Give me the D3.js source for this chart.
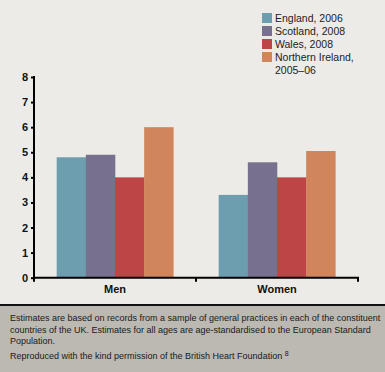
<!DOCTYPE html>
<html>
<head>
<meta charset="utf-8">
<script src="https://cdn.jsdelivr.net/npm/d3@7"></script>
<style>
  body { margin: 0; background: #edebe7; }
  svg { display: block; }
</style>
</head>
<body>
<div id="chart"></div>
<script>
// chart data
const categories = ['Men', 'Women']
const seriesNames = ['England, 2006', 'Scotland, 2008', 'Wales, 2008', 'Northern Ireland, 2005–06']
const england = [4.8, 3.3]
const scotland = [4.9, 4.6]
const wales = [4.0, 4.0]
const nireland = [6.0, 5.05]
const yTicks = [0, 1, 2, 3, 4, 5, 6, 7, 8]
const footnote = [
    'Estimates are based on records from a sample of general practices in each of the constituent',
    'countries of the UK. Estimates for all ages are age-standardised to the European Standard',
    'Population.'
]
const credit = 'Reproduced with the kind permission of the British Heart Foundation'

const colors = ['#6d9eaf', '#77708f', '#bd4546', '#d0855c']
const series = [england, scotland, wales, nireland]

const width = 385
const height = 372
const margin = { left: 34, right: 27, top: 77, bottom: 94 }

const svg = d3.select('#chart')
    .append('svg')
    .attr('width', width)
    .attr('height', height)

svg.append('rect')
    .attr('width', width)
    .attr('height', height)
    .attr('fill', '#edebe7')

// scales
const x0 = d3.scaleBand()
    .domain(categories)
    .range([margin.left, width - margin.right])
    .paddingInner(0.28)
    .paddingOuter(0.14)

const xFull = d3.scaleBand()
    .domain(categories)
    .range([margin.left, width - margin.right])

const x1 = d3.scaleBand()
    .domain(d3.range(series.length))
    .range([0, x0.bandwidth()])

const y = d3.scaleLinear()
    .domain([0, 8])
    .range([height - margin.bottom - 0.3, margin.top])

// bars
const rows = []
categories.forEach((c, ci) => {
    series.forEach((s, si) => rows.push({ cat: c, s: si, v: s[ci] }))
})

svg.append('g')
    .selectAll('rect')
    .data(rows)
    .enter()
    .append('rect')
    .attr('x', d => x0(d.cat) + x1(d.s))
    .attr('y', d => y(d.v))
    .attr('width', x1.bandwidth() + 0.3)
    .attr('height', d => y(0) - y(d.v))
    .attr('fill', d => colors[d.s])

// y axis
const yAxis = d3.axisLeft(y)
    .tickValues(yTicks)
    .tickSize(3)
    .tickFormat(d3.format('d'))

const gy = svg.append('g')
    .attr('transform', 'translate(' + margin.left + ',0)')
    .call(yAxis)
gy.select('.domain').remove()
gy.append('line')
    .attr('x1', 0).attr('x2', 0)
    .attr('y1', y(8) - 1).attr('y2', y(0) + 1)
    .attr('stroke', '#000').attr('stroke-width', 2)
gy.selectAll('.tick line').attr('stroke', '#000').attr('stroke-width', 2)
gy.selectAll('.tick text')
    .attr('x', -6)
    .attr('fill', '#111')
    .style('font-family', 'Liberation Sans, Arial, sans-serif')
    .style('font-size', '11px')
    .style('font-weight', 'bold')

// x axis
const gx = svg.append('g')
    .attr('transform', 'translate(0,' + y(0) + ')')
gx.append('line')
    .attr('x1', margin.left - 1).attr('x2', width - margin.right + 1)
    .attr('y1', 0).attr('y2', 0)
    .attr('stroke', '#000').attr('stroke-width', 2)
const xt = [margin.left, xFull(categories[1]), width - margin.right]
gx.selectAll('.xt')
    .data(xt)
    .enter()
    .append('line')
    .attr('x1', d => d).attr('x2', d => d)
    .attr('y1', 0).attr('y2', 4)
    .attr('stroke', '#000').attr('stroke-width', 2)
gx.selectAll('.xl')
    .data(categories)
    .enter()
    .append('text')
    .attr('x', d => xFull(d) + xFull.bandwidth() / 2)
    .attr('y', 15)
    .attr('text-anchor', 'middle')
    .attr('fill', '#111')
    .style('font-family', 'Liberation Sans, Arial, sans-serif')
    .style('font-size', '11px')
    .style('font-weight', 'bold')
    .text(d => d)

// legend
const legend = svg.append('g')
    .attr('transform', 'translate(262,13)')
seriesNames.forEach((name, i) => {
    const g = legend.append('g').attr('transform', 'translate(0,' + (i * 13) + ')')
    g.append('rect')
        .attr('width', 10).attr('height', 10)
        .attr('fill', colors[i])
    const t = g.append('text')
        .attr('x', 13)
        .attr('y', 9)
        .attr('fill', '#222')
        .style('font-family', 'Liberation Sans, Arial, sans-serif')
        .style('font-size', '10.5px')
    const parts = name.indexOf('Northern') === 0 ? ['Northern Ireland,', '2005–06'] : [name]
    parts.forEach((p, k) => {
        t.append('tspan').attr('x', 13).attr('dy', k === 0 ? 0 : 13).text(p)
    })
})

// footer
const fy = 305
svg.append('rect')
    .attr('x', 0).attr('y', fy)
    .attr('width', width).attr('height', height - fy)
    .attr('fill', '#bcb8b2')
svg.append('line')
    .attr('x1', 0).attr('x2', width)
    .attr('y1', fy).attr('y2', fy)
    .attr('stroke', '#111').attr('stroke-width', 2)

const ft = svg.append('text')
    .attr('fill', '#1a1a1a')
    .style('font-family', 'Liberation Sans, Arial, sans-serif')
    .style('font-size', '9px')
footnote.forEach((line, i) => {
    ft.append('tspan').attr('x', 10).attr('y', 321 + i * 11.5).text(line)
})
const cr = svg.append('text')
    .attr('x', 10)
    .attr('y', 359)
    .attr('fill', '#1a1a1a')
    .style('font-family', 'Liberation Sans, Arial, sans-serif')
    .style('font-size', '9px')
cr.append('tspan').text(credit + ' ')
cr.append('tspan').attr('dy', -3).style('font-size', '7px').text('8')
</script>
</body>
</html>
